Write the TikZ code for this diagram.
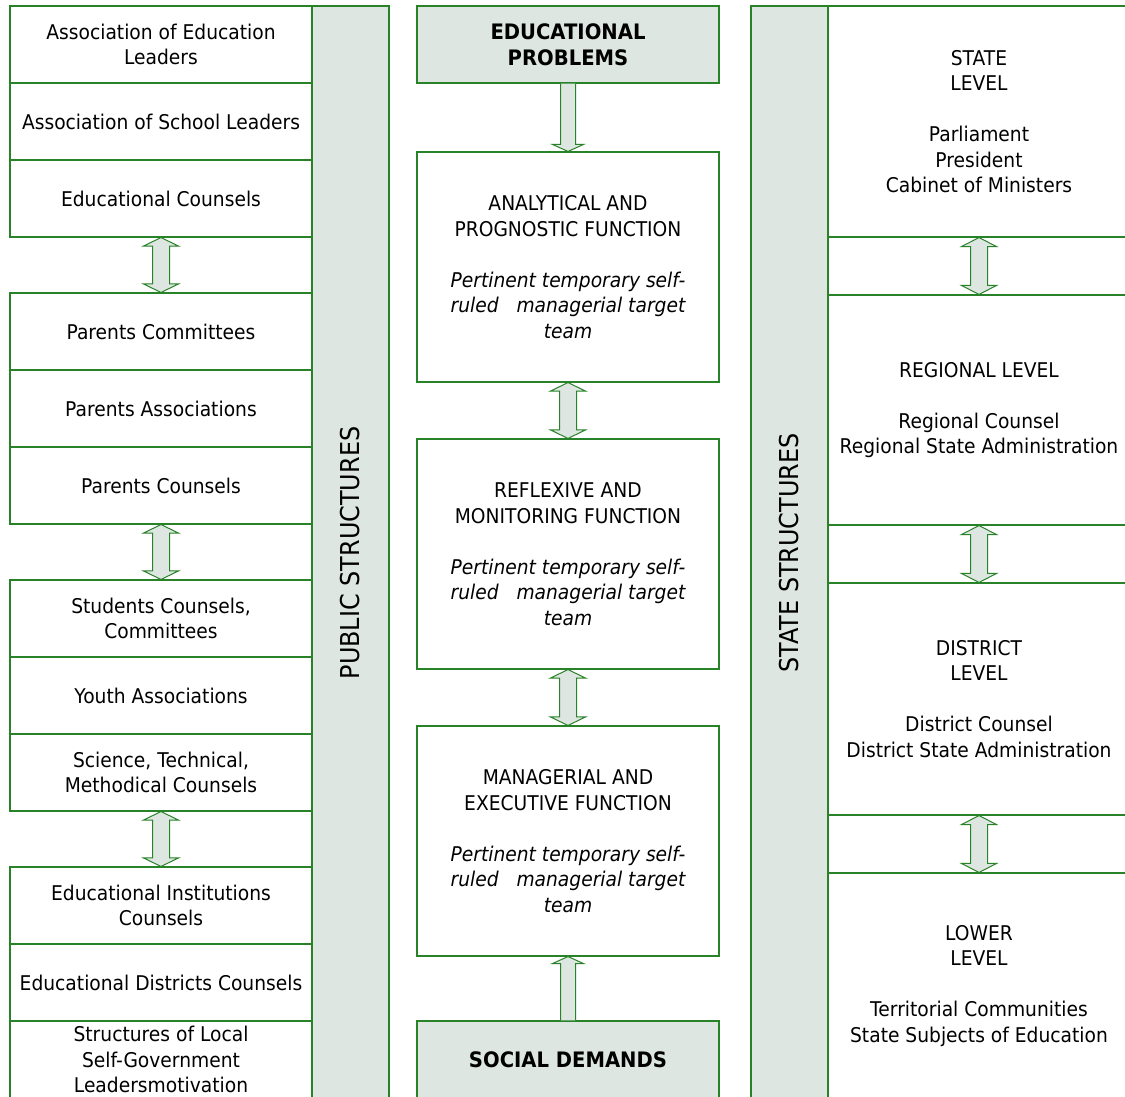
\documentclass[tikz,border=0pt]{standalone}
\usepackage{fontspec}
\setmainfont[FakeStretch=0.92]{DejaVu Sans}
\usetikzlibrary{calc}
\definecolor{ln}{RGB}{40,130,40}
\definecolor{gf}{RGB}{222,230,225}
\newcommand\dblarr[5]{%
 \draw[arr] (#1.south) -- ($(#1.south)+(#4,#5)$) -- ($(#1.south)+(#3,#5)$) -- ($(#2.north)+(#3,-#5)$) -- ($(#2.north)+(#4,-#5)$) -- (#2.north) -- ($(#2.north)+(-#4,-#5)$) -- ($(#2.north)+(-#3,-#5)$) -- ($(#1.south)+(-#3,#5)$) -- ($(#1.south)+(-#4,#5)$) -- cycle;}
\begin{document}
\begin{tikzpicture}[x=1pt,y=-1pt,
  txt/.style={font=\fontsize{20.3}{25.5}\selectfont},
  box/.style={draw=ln, line width=1.1pt, rectangle, inner sep=0pt, align=center, txt},
  lbox/.style={box, minimum width=302pt, minimum height=77pt},
  fbox/.style={box, minimum width=302pt, minimum height=230pt},
  rbox/.style={box, minimum width=302pt},
  bar/.style={box, fill=gf, rotate=90, minimum width=1094pt, minimum height=77pt, font=\fontsize{26}{30}\selectfont},
  hbox/.style={box, fill=gf, minimum width=302pt, minimum height=77pt, font=\fontsize{21.3}{25.5}\selectfont\bfseries},
  arr/.style={draw=ln, fill=gf, line width=1pt, line join=miter}]
\useasboundingbox (0,0) rectangle (1125,1097);
\clip (0,0) rectangle (1125,1097);
% left column
\node[lbox] (l1) at (161,44.5) {Association of Education\\Leaders};
\node[lbox] (l2) at (161,121.5) {Association of School Leaders};
\node[lbox] (l3) at (161,198.5) {Educational Counsels};
\node[lbox] (l4) at (161,331.5) {Parents Committees};
\node[lbox] (l5) at (161,408.5) {Parents Associations};
\node[lbox] (l6) at (161,485.5) {Parents Counsels};
\node[lbox] (l7) at (161,618.5) {Students Counsels,\\Committees};
\node[lbox] (l8) at (161,695.5) {Youth Associations};
\node[lbox] (l9) at (161,772.5) {Science, Technical,\\Methodical Counsels};
\node[lbox] (l10) at (161,905.5) {Educational Institutions\\Counsels};
\node[lbox] (l11) at (161,982.5) {Educational Districts Counsels};
\node[lbox] (l12) at (161,1059.5) {Structures of Local\\Self-Government\\Leadersmotivation};
\node[bar] (pub) at (350.5,553) {PUBLIC STRUCTURES};
% middle column
\node[hbox] (prob) at (568,44.5) {EDUCATIONAL\\PROBLEMS};
\node[fbox] (f1) at (568,267) {ANALYTICAL AND\\PROGNOSTIC FUNCTION\\[25.5pt]\itshape Pertinent temporary self-\\\itshape ruled~~~managerial target\\\itshape team};
\node[fbox] (f2) at (568,554) {REFLEXIVE AND\\MONITORING FUNCTION\\[25.5pt]\itshape Pertinent temporary self-\\\itshape ruled~~~managerial target\\\itshape team};
\node[fbox] (f3) at (568,841) {MANAGERIAL AND\\EXECUTIVE FUNCTION\\[25.5pt]\itshape Pertinent temporary self-\\\itshape ruled~~~managerial target\\\itshape team};
\node[hbox] (soc) at (568,1059.5) {SOCIAL DEMANDS};
% right column
\node[bar] (st) at (789.5,553) {STATE STRUCTURES};
\node[rbox, minimum height=231pt] (r1) at (979,121.5) {STATE\\LEVEL\\[25.5pt]Parliament\\President\\Cabinet of Ministers};
\node[rbox, minimum height=230pt] (r2) at (979,410) {REGIONAL LEVEL\\[25.5pt]Regional Counsel\\Regional State Administration};
\node[rbox, minimum height=232pt] (r3) at (979,699) {DISTRICT\\LEVEL\\[25.5pt]District Counsel\\District State Administration};
\node[rbox, minimum height=226pt] (r4) at (979,986) {LOWER\\LEVEL\\[25.5pt]Territorial Communities\\State Subjects of Education};
% arrows
\dblarr{l3}{l4}{8.5}{17.5}{8.5}
\dblarr{l6}{l7}{8.5}{17.5}{8.5}
\dblarr{l9}{l10}{8.5}{17.5}{8.5}
\dblarr{f1}{f2}{8.5}{17.5}{8.5}
\dblarr{f2}{f3}{8.5}{17.5}{8.5}
\dblarr{r1}{r2}{8.5}{17.5}{9}
\dblarr{r2}{r3}{8.5}{17.5}{9}
\dblarr{r3}{r4}{8.5}{17.5}{9}
\draw[arr] ($(prob.south)+(-7.5,0)$) -- ($(f1.north)+(-7.5,-7)$) -- ($(f1.north)+(-15.5,-7)$) -- (f1.north) -- ($(f1.north)+(15.5,-7)$) -- ($(f1.north)+(7.5,-7)$) -- ($(prob.south)+(7.5,0)$);
\draw[arr] ($(soc.north)+(-7.5,0)$) -- ($(f3.south)+(-7.5,7)$) -- ($(f3.south)+(-15.5,7)$) -- (f3.south) -- ($(f3.south)+(15.5,7)$) -- ($(f3.south)+(7.5,7)$) -- ($(soc.north)+(7.5,0)$);
\end{tikzpicture}
\end{document}
